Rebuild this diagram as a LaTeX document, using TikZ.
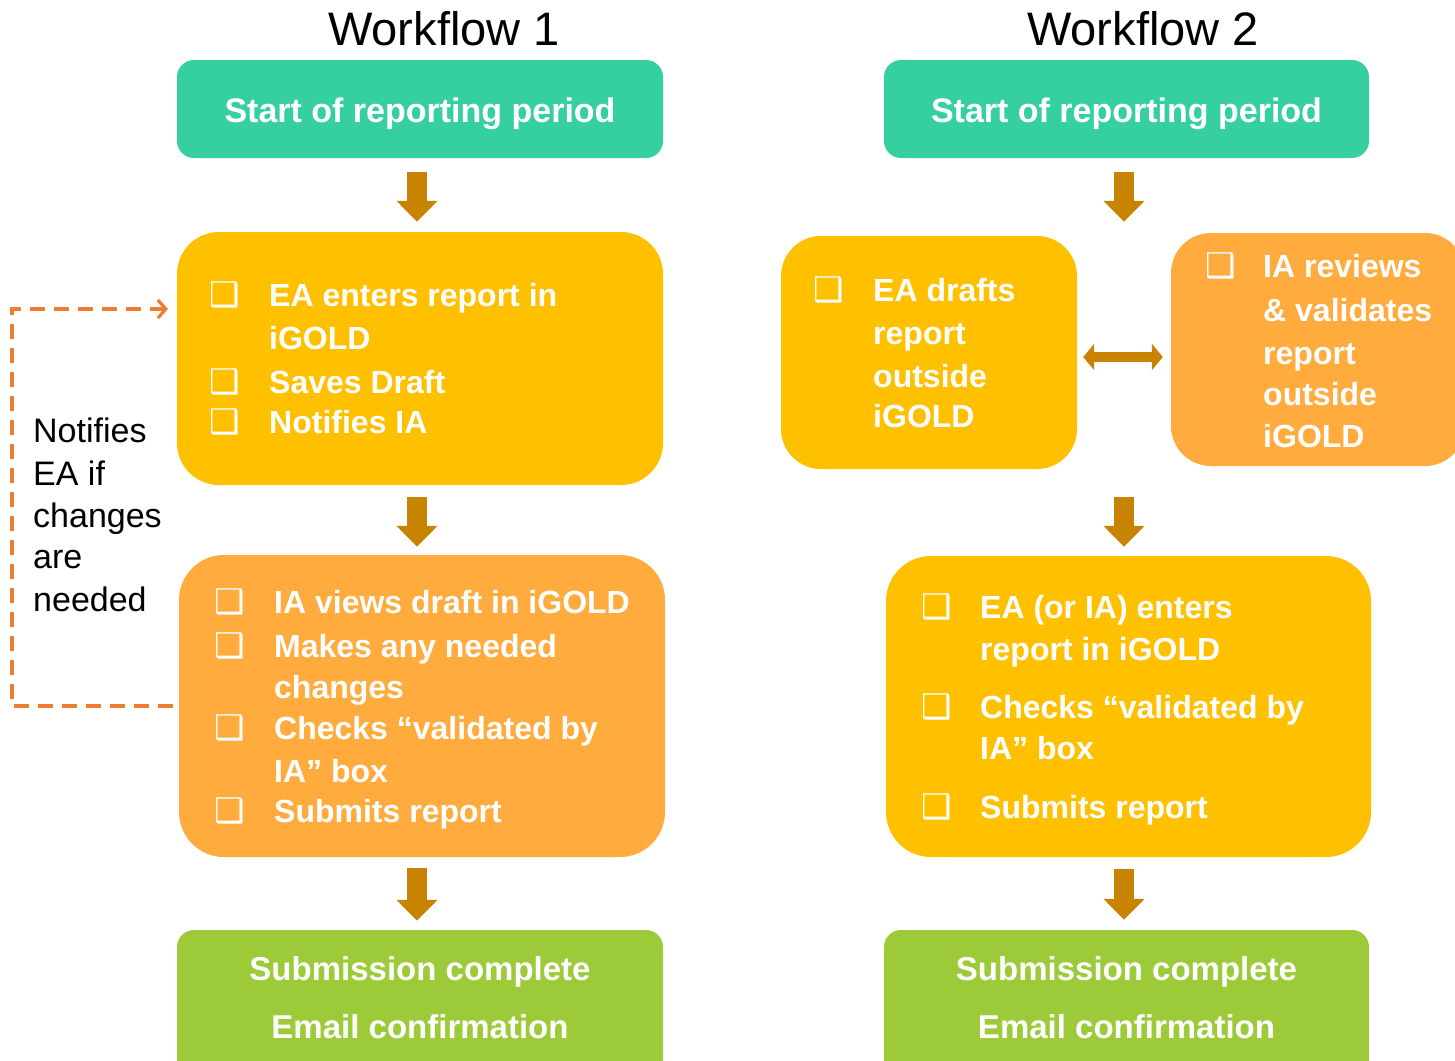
\documentclass[tikz,border=0pt]{standalone}
\usepackage{fontspec}
\setmainfont{Liberation Sans}
\newfontfamily\symfont{DejaVu Sans}
\usetikzlibrary{arrows.meta,calc}
\definecolor{tealc}{HTML}{36CFA0}
\definecolor{yelc}{HTML}{FFC000}
\definecolor{orgc}{HTML}{FFAB3D}
\definecolor{grnc}{HTML}{9DCA38}
\definecolor{brnc}{HTML}{C88400}
\definecolor{fbcol}{HTML}{ED7D31}
\newcommand{\cbox}[3]{\node[cbx] (#1) at (#2,#3) {❑};}
\newcommand{\tline}[4]{\node[btxt] (#1) at (#2,#3) {#4};}
\begin{document}
\begin{tikzpicture}[x=1pt,y=-1pt,
  box/.style={rectangle, inner sep=0pt, draw=none},
  btxt/.style={text=white, font=\bfseries\fontsize{32}{38}\selectfont, inner sep=0pt, anchor=base west},
  ctxt/.style={text=white, font=\bfseries\fontsize{33}{40}\selectfont, inner sep=0pt, anchor=base},
  cbx/.style={text=white, font=\symfont\fontsize{34}{40}\selectfont, inner sep=0pt, anchor=base west},
  ttl/.style={text=black, font=\fontsize{47}{54}\selectfont, inner sep=0pt, anchor=base},
  ntxt/.style={text=black, font=\fontsize{34}{40}\selectfont, inner sep=0pt, anchor=base west},
  blk/.style={draw=brnc, line width=20pt, -{Triangle[length=21pt,width=40pt]}},
  dbl/.style={draw=brnc, line width=10pt, {Triangle[length=11pt,width=26pt]}-{Triangle[length=11pt,width=26pt]}},
  fb/.style={draw=fbcol, line width=3.2pt, dash pattern=on 15pt off 9pt, -{Straight Barb[length=8pt,width=18pt]}}
]
\useasboundingbox (0,0) rectangle (1455,1060);

% titles
\node[ttl] (t1) at (444,45) {Workflow 1};
\node[ttl] (t2) at (1143,45) {Workflow 2};

% ---------- Workflow 1 ----------
\node[box, fill=tealc, minimum width=486pt, minimum height=98pt, rounded corners=17pt] (S1) at (420,109) {};
\node[ctxt, font=\bfseries\fontsize{34}{40}\selectfont] (s1t) at (420,122) {Start of reporting period};

\node[box, fill=yelc, minimum width=486pt, minimum height=253pt, rounded corners=42pt] (A1) at (420,358.5) {};
\cbox{a1c1}{209}{306} \tline{a1l1}{269}{306}{EA enters report in}
\tline{a1l2}{269}{349}{iGOLD}
\cbox{a1c2}{209}{393} \tline{a1l3}{269}{393}{Saves Draft}
\cbox{a1c3}{209}{433} \tline{a1l4}{269}{433}{Notifies IA}

\node[box, fill=orgc, minimum width=486pt, minimum height=302pt, rounded corners=45pt] (B1) at (422,706) {};
\cbox{b1c1}{214}{613} \tline{b1l1}{274}{613}{IA views draft in iGOLD}
\cbox{b1c2}{214}{657} \tline{b1l2}{274}{657}{Makes any needed}
\tline{b1l3}{274}{698}{changes}
\cbox{b1c3}{214}{739} \tline{b1l4}{274}{739}{Checks “validated by}
\tline{b1l5}{274}{782}{IA” box}
\cbox{b1c4}{214}{822} \tline{b1l6}{274}{822}{Submits report}

\node[box, fill=grnc, minimum width=486pt, minimum height=160pt, rounded corners=17pt] (C1) at (420,1010) {};
\node[ctxt] (c1t1) at (420,980) {Submission complete};
\node[ctxt] (c1t2) at (420,1038) {Email confirmation};

\draw[blk] ($(S1.south)+(-3,14)$) -- ($(A1.north)+(-3,-10)$);
\draw[blk] ($(A1.south)+(-3,12)$) -- ($(B1.north)+(-5,-8)$);
\draw[blk] ($(B1.south)+(-5,11)$) -- ($(C1.north)+(-3,-9)$);

% feedback loop
\coordinate (fbL) at (12,0);
\coordinate (fbT) at (168,309);
\draw[fb] ($(B1.west)+(-6,0)$) -| (fbL |- fbT) -- (fbT);
\node[ntxt] (n1) at (33,442) {Notifies};
\node[ntxt] (n2) at (33,485) {EA if};
\node[ntxt] (n3) at (33,527) {changes};
\node[ntxt] (n4) at (33,568) {are};
\node[ntxt] (n5) at (33,611) {needed};

% ---------- Workflow 2 ----------
\node[box, fill=tealc, minimum width=485pt, minimum height=98pt, rounded corners=17pt] (S2) at (1126.5,109) {};
\node[ctxt, font=\bfseries\fontsize{34}{40}\selectfont] (s2t) at (1126.5,122) {Start of reporting period};

\node[box, fill=yelc, minimum width=296pt, minimum height=233pt, rounded corners=40pt] (A2) at (929,352.5) {};
\cbox{a2c1}{813}{301} \tline{a2l1}{873}{301}{EA drafts}
\tline{a2l2}{873}{344}{report}
\tline{a2l3}{873}{387}{outside}
\tline{a2l4}{873}{427}{iGOLD}

\node[box, fill=orgc, minimum width=294pt, minimum height=233pt, rounded corners=40pt] (A2b) at (1318,349.5) {};
\cbox{a2bc1}{1205}{277} \tline{a2bl1}{1263}{277}{IA reviews}
\tline{a2bl2}{1263}{321}{\& validates}
\tline{a2bl3}{1263}{364}{report}
\tline{a2bl4}{1263}{405}{outside}
\tline{a2bl5}{1263}{447}{iGOLD}

\coordinate (dl) at ($(A2.east)+(6,4.5)$);
\draw[dbl] (dl) -- ($(dl -| A2b.west)+(-8,0)$);

\node[box, fill=yelc, minimum width=485pt, minimum height=301pt, rounded corners=45pt] (B2) at (1128.5,706.5) {};
\cbox{b2c1}{921}{618} \tline{b2l1}{980}{618}{EA (or IA) enters}
\tline{b2l2}{980}{660}{report in iGOLD}
\cbox{b2c2}{921}{718} \tline{b2l3}{980}{718}{Checks “validated by}
\tline{b2l4}{980}{759}{IA” box}
\cbox{b2c3}{921}{818} \tline{b2l5}{980}{818}{Submits report}

\node[box, fill=grnc, minimum width=485pt, minimum height=160pt, rounded corners=17pt] (C2) at (1126.5,1010) {};
\node[ctxt] (c2t1) at (1126.5,980) {Submission complete};
\node[ctxt] (c2t2) at (1126.5,1038) {Email confirmation};

\draw[blk] ($(S2.south)+(-2.5,14)$) -- ($(A2.north -| S2.south)+(-2.5,-14)$);
\draw[blk] ($(B2.north |- A2.south)+(-4.5,28)$) -- ($(B2.north)+(-4.5,-9)$);
\draw[blk] ($(B2.south)+(-4.5,12)$) -- ($(C2.north)+(-2.5,-10)$);
\end{tikzpicture}
\end{document}
